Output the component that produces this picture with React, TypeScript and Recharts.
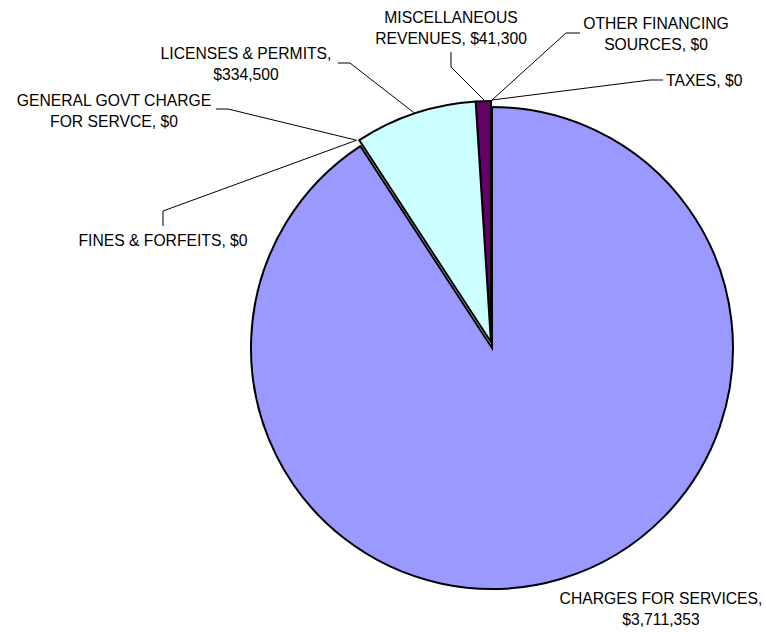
import React from 'react';
import { PieChart, Pie, Cell } from 'recharts';

// ---- data ----
const categories = [
  'TAXES',
  'OTHER FINANCING SOURCES',
  'MISCELLANEOUS REVENUES',
  'LICENSES & PERMITS',
  'GENERAL GOVT CHARGE FOR SERVCE',
  'FINES & FORFEITS',
  'CHARGES FOR SERVICES',
];
const amounts = [0, 0, 41300, 334500, 0, 0, 3711353];

// ---- styles / layout ----
const sliceColors = ['none', 'none', '#660066', '#CCFFFF', 'none', 'none', '#9999FF'];
const explodedSlices = [false, false, true, true, false, false, false];

const WIDTH = 766;
const HEIGHT = 632;
const CX = 492;
const CY = 348;
const R = 241;
const EXPLODE = 6;
const EXPLODE_ANGLE = 100;
const RAD = Math.PI / 180;
const FONT_SIZE = 15.7;
const LINE_GAP = 21;

type Layout = {
  words: number; // words on first line
  x: number; // relative to centre
  y: number; // first line centre, relative to centre
  anchor: 'start' | 'middle' | 'end';
  leader: number[][] | null; // relative to centre
};

const LABEL_LAYOUT: Layout[] = [
  { words: 99, x: 174, y: -268, anchor: 'start', leader: [[158, -268], [171, -268]] },
  { words: 2, x: 164, y: -325, anchor: 'middle', leader: [[74, -315], [88, -315]] },
  { words: 1, x: -41, y: -331, anchor: 'middle', leader: [[-41, -281], [-41, -296]] },
  { words: 3, x: -246, y: -295, anchor: 'middle', leader: [[-142, -285], [-154, -285]] },
  { words: 3, x: -378, y: -248, anchor: 'middle', leader: [[-264, -239], [-276, -239]] },
  { words: 99, x: -329, y: -108, anchor: 'middle', leader: [[-329, -137], [-329, -122]] },
  { words: 3, x: 169, y: 250, anchor: 'middle', leader: null },
];

const data = categories.map((name, i) => ({ name, value: amounts[i] }));

const fmt = (v: number) => '$' + v.toLocaleString('en-US');

const renderLabel = (props: any) => {
  const { cx, cy, midAngle, outerRadius, index } = props;
  const layout = LABEL_LAYOUT[index];
  if (!layout) return null;
  const text = `${categories[index]}, ${fmt(amounts[index])}`;
  const words = text.split(' ');
  const lines = [words.slice(0, layout.words).join(' '), words.slice(layout.words).join(' ')].filter(
    (s) => s.length > 0
  );
  let leader: React.ReactNode = null;
  if (layout.leader) {
    const sr = outerRadius + EXPLODE + 1;
    const sx = cx + sr * Math.cos(-midAngle * RAD);
    const sy = cy + sr * Math.sin(-midAngle * RAD);
    const pts = [[sx, sy], ...layout.leader.map(([dx, dy]) => [cx + dx, cy + dy])];
    leader = (
      <polyline
        points={pts.map((p) => p.join(',')).join(' ')}
        fill="none"
        stroke="#000"
        strokeWidth={1}
      />
    );
  }
  return (
    <g key={`lbl-${index}`}>
      {leader}
      {lines.map((ln, k) => (
        <text
          key={k}
          x={cx + layout.x}
          y={cy + layout.y + k * LINE_GAP}
          textAnchor={layout.anchor}
          dominantBaseline="central"
          fontFamily="'Liberation Sans', Arial, sans-serif"
          fontSize={FONT_SIZE}
          fill="#000"
        >
          {ln}
        </text>
      ))}
    </g>
  );
};

export default function App() {
  const ex = CX + EXPLODE * Math.cos(-EXPLODE_ANGLE * RAD);
  const ey = CY + EXPLODE * Math.sin(-EXPLODE_ANGLE * RAD);
  return (
    <div style={{ position: 'absolute', left: 0, top: 0, width: WIDTH, height: HEIGHT, background: '#fff' }}>
      <PieChart width={WIDTH} height={HEIGHT} margin={{ top: 0, right: 0, bottom: 0, left: 0 }}>
        <Pie
          data={data}
          dataKey="value"
          nameKey="name"
          cx={CX}
          cy={CY}
          outerRadius={R}
          startAngle={90}
          endAngle={450}
          isAnimationActive={false}
          labelLine={false}
          label={renderLabel}
        >
          {data.map((d, i) => (
            <Cell
              key={`m-${i}`}
              fill={explodedSlices[i] ? 'none' : sliceColors[i]}
              stroke={!explodedSlices[i] && sliceColors[i] !== 'none' ? '#000' : 'none'}
              strokeWidth={2}
            />
          ))}
        </Pie>
        <Pie
          data={data}
          dataKey="value"
          nameKey="name"
          cx={ex}
          cy={ey}
          outerRadius={R}
          startAngle={90}
          endAngle={450}
          isAnimationActive={false}
          labelLine={false}
          label={false}
        >
          {data.map((d, i) => (
            <Cell
              key={`e-${i}`}
              fill={explodedSlices[i] ? sliceColors[i] : 'none'}
              stroke={explodedSlices[i] ? '#000' : 'none'}
              strokeWidth={2}
            />
          ))}
        </Pie>
      </PieChart>
    </div>
  );
}
